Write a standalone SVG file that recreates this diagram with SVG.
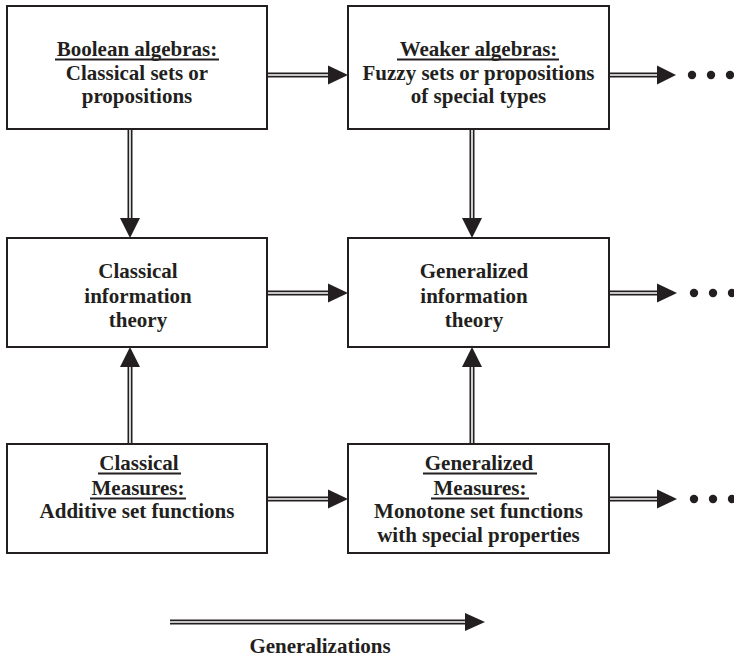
<svg xmlns="http://www.w3.org/2000/svg" width="734" height="657" viewBox="0 0 734 657">
<style>
.box{fill:#fff;stroke:#231f20;stroke-width:2}
.t{font-family:"Liberation Serif","Times New Roman",serif;font-weight:bold;font-size:21px;fill:#231f20;text-anchor:middle}
.ul{stroke:#231f20;stroke-width:1.8}
.lo{stroke:#231f20;stroke-width:5;fill:none}
.li{stroke:#fff;stroke-width:1.6;fill:none}
.hd{fill:#231f20}
.dot{fill:#231f20}
</style>
<rect width="734" height="657" fill="#fff"/>
<g id="connectors">
  <!-- top row horizontal -->
  <path class="lo" d="M268 75H330"/><path class="li" d="M268 75H331"/>
  <polygon class="hd" points="328,65.5 348,75 328,84.5"/>
  <path class="lo" d="M610 75H659"/><path class="li" d="M610 75H660"/>
  <polygon class="hd" points="657,65.5 676,75 657,84.5"/>
  <!-- middle row horizontal -->
  <path class="lo" d="M268 293H330"/><path class="li" d="M268 293H331"/>
  <polygon class="hd" points="328,283.5 348,293 328,302.5"/>
  <path class="lo" d="M610 293H659"/><path class="li" d="M610 293H660"/>
  <polygon class="hd" points="657,283.5 677,293 657,302.5"/>
  <!-- bottom row horizontal -->
  <path class="lo" d="M268 499H330"/><path class="li" d="M268 499H331"/>
  <polygon class="hd" points="328,489.5 348,499 328,508.5"/>
  <path class="lo" d="M610 499H659"/><path class="li" d="M610 499H660"/>
  <polygon class="hd" points="657,489.5 677,499 657,508.5"/>
  <!-- vertical down -->
  <path class="lo" d="M130 130V220"/><path class="li" d="M130 130V221"/>
  <polygon class="hd" points="120,218 140,218 130,238"/>
  <path class="lo" d="M472 130V220"/><path class="li" d="M472 130V221"/>
  <polygon class="hd" points="462,218 482,218 472,238"/>
  <!-- vertical up -->
  <path class="lo" d="M130 443V366"/><path class="li" d="M130 443V365"/>
  <polygon class="hd" points="120,367 140,367 130,347"/>
  <path class="lo" d="M472 443V366"/><path class="li" d="M472 443V365"/>
  <polygon class="hd" points="462,367 482,367 472,347"/>
  <!-- legend -->
  <path class="lo" d="M170 622H467"/><path class="li" d="M170 622H468"/>
  <polygon class="hd" points="465,613 485,622 465,631"/>
</g>
<g id="dots">
  <circle class="dot" cx="692" cy="75" r="4.2"/><circle class="dot" cx="711" cy="75" r="4.2"/><circle class="dot" cx="730" cy="75" r="4.2"/>
  <circle class="dot" cx="694" cy="293" r="4.2"/><circle class="dot" cx="713" cy="293" r="4.2"/><circle class="dot" cx="732" cy="293" r="4.2"/>
  <circle class="dot" cx="694" cy="499" r="4.2"/><circle class="dot" cx="713" cy="499" r="4.2"/><circle class="dot" cx="732" cy="499" r="4.2"/>
</g>
<g id="boolean">
  <rect class="box" x="7" y="6" width="260" height="123"/>
  <text class="t" x="137" y="56">Boolean algebras:</text>
  <line class="ul" x1="55" y1="59.5" x2="219" y2="59.5"/>
  <text class="t" x="137" y="80">Classical sets or</text>
  <text class="t" x="137" y="103">propositions</text>
</g>
<g id="weaker">
  <rect class="box" x="348" y="6" width="261" height="123"/>
  <text class="t" x="478.5" y="56">Weaker algebras:</text>
  <line class="ul" x1="397" y1="59.5" x2="559" y2="59.5"/>
  <text class="t" x="478.5" y="80">Fuzzy sets or propositions</text>
  <text class="t" x="478.5" y="103">of special types</text>
</g>
<g id="classical-info">
  <rect class="box" x="7" y="238" width="260" height="109"/>
  <text class="t" x="138" y="278">Classical</text>
  <text class="t" x="138" y="303">information</text>
  <text class="t" x="138" y="327">theory</text>
</g>
<g id="generalized-info">
  <rect class="box" x="348" y="238" width="261" height="109"/>
  <text class="t" x="474" y="278">Generalized</text>
  <text class="t" x="474" y="303">information</text>
  <text class="t" x="474" y="327">theory</text>
</g>
<g id="classical-measures">
  <rect class="box" x="7" y="444" width="260" height="109"/>
  <text class="t" x="139" y="470">Classical</text>
  <line class="ul" x1="98" y1="473.5" x2="181" y2="473.5"/>
  <text class="t" x="138" y="495">Measures:</text>
  <line class="ul" x1="90" y1="498.5" x2="186" y2="498.5"/>
  <text class="t" x="137" y="518">Additive set functions</text>
</g>
<g id="generalized-measures">
  <rect class="box" x="348" y="444" width="261" height="109"/>
  <text class="t" x="479" y="470">Generalized</text>
  <line class="ul" x1="423" y1="473.5" x2="537" y2="473.5"/>
  <text class="t" x="480" y="495">Measures:</text>
  <line class="ul" x1="431" y1="498.5" x2="529" y2="498.5"/>
  <text class="t" x="478.5" y="518">Monotone set functions</text>
  <text class="t" x="478.5" y="542">with special properties</text>
</g>
<g id="legend">
  <text class="t" x="320" y="653">Generalizations</text>
</g>
</svg>
